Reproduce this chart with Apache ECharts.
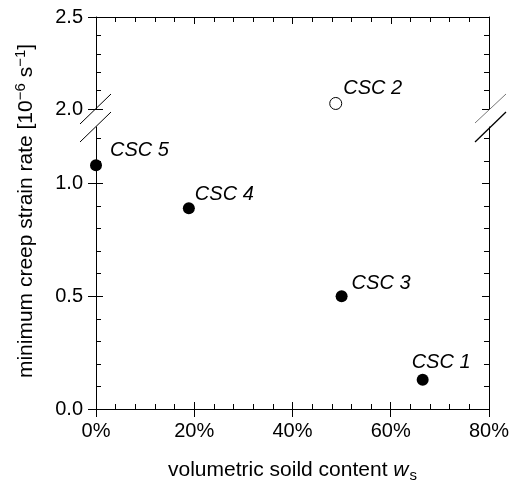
<!DOCTYPE html>
<html>
<head>
<meta charset="utf-8">
<title>minimum creep strain rate</title>
<script src="https://cdn.jsdelivr.net/npm/echarts@6/dist/echarts.min.js"></script>
<style>
    html, body {margin: 0; padding: 0; background: #fff;}
    #chart {width: 512px; height: 488px;}
</style>
</head>
<body>
<div id="chart"></div>
<script>
    // values
    var names = ['CSC 1', 'CSC 2', 'CSC 3', 'CSC 4', 'CSC 5'];
    var soildContent = [66.5, 48.8, 50.0, 18.9, 0];
    var creepRate = [0.13, 2.03, 0.50, 0.89, 1.08];
    var hollow = [false, true, false, false, false];

    var xTicks = [0, 20, 40, 60, 80];
    var lowTicks = [0, 0.5, 1.0];
    var highTicks = [2.0, 2.5];

    // label placement, relative to the marker centre
    var labelShift = [[-11, -17], [7, -15], [10, -13], [6, -14], [14, -15]];

    var font = 'Liberation Sans, Arial, sans-serif';
    var black = '#000';

    // minor ticks: every 4 % on x, every 0.1 on y
    var xMinor = [], lowMinor = [], highMinor = [];
    for (var a = 4; a < 80; a += 4) {
        if (a % 20) xMinor.push(a);
    }
    for (var i = 1; i <= 12; i++) {
        if (i % 5) lowMinor.push(i / 10);
    }
    for (var j = 21; j <= 24; j++) highMinor.push(j / 10);

    var line = {show: true, lineStyle: {color: black, width: 1}};

    function ticks(vals, len, inside) {
        return {show: true, customValues: vals, length: len, inside: inside,
            lineStyle: {color: black, width: 1}};
    }

    function yAx(grid, pos, min, max, o) {
        return Object.assign({
            type: 'value', gridIndex: grid, position: pos, min: min, max: max,
            splitLine: {show: false},
            axisLine: {show: false},
            axisLabel: {show: false},
            axisTick: {show: false}
        }, o);
    }

    function xAx(grid, pos, o) {
        return yAx(grid, pos, 0, 80, o);
    }

    function yLabels(vals) {
        return {show: true, customValues: vals, margin: 13, color: black,
            fontSize: 20, fontFamily: font,
            formatter: function (v) { return v.toFixed(1); }};
    }

    var lowData = [], highData = [];
    for (var k = 0; k < names.length; k++) {
        var item = {
            name: names[k],
            value: [soildContent[k], creepRate[k]],
            label: {offset: [labelShift[k][0] - 6, labelShift[k][1]]},
            itemStyle: hollow[k]
                ? {color: '#fff', borderColor: black, borderWidth: 1, opacity: 1}
                : {color: black, opacity: 1}
        };
        (creepRate[k] > 1.5 ? highData : lowData).push(item);
    }

    var pointLabel = {
        show: true, position: 'right', distance: 0, formatter: '{b}',
        color: black, fontSize: 20, fontStyle: 'italic', fontFamily: font
    };

    var chart = echarts.init(document.getElementById('chart'));
    chart.setOption({
        animation: false,
        backgroundColor: '#fff',
        grid: [
            {left: 96, width: 393, top: 127, height: 283, show: false},
            {left: 96, width: 393, top: 17, height: 92, show: false}
        ],
        xAxis: [
            xAx(0, 'bottom', {
                axisLine: line,
                axisTick: ticks(xTicks, 8, false),
                axisLabel: {show: true, customValues: xTicks, color: black, fontSize: 20,
                    fontFamily: font, margin: 12, formatter: '{value}%'},
                name: '{t|volumetric soild content }{w|w}{s|s}',
                nameLocation: 'middle',
                nameGap: 49,
                nameTextStyle: {
                    rich: {
                        t: {fontSize: 21, fontFamily: font, color: black},
                        w: {fontSize: 21, fontFamily: font, color: black, fontStyle: 'italic'},
                        s: {fontSize: 15, fontFamily: font, color: black, padding: [10, 0, 0, 1]}
                    }
                }
            }),
            xAx(0, 'bottom', {axisTick: ticks(xTicks, 7, true)}),
            xAx(0, 'bottom', {axisTick: ticks(xMinor, 5, true)}),
            xAx(1, 'top', {axisLine: line, axisTick: ticks(xTicks, 7, true)}),
            xAx(1, 'top', {axisTick: ticks(xMinor, 5, true)})
        ],
        yAxis: [
            // lower part 0 .. 1.25
            yAx(0, 'left', 0, 1.25, {axisLine: line, axisLabel: yLabels(lowTicks),
                axisTick: ticks(lowTicks, 8, false)}),
            yAx(0, 'left', 0, 1.25, {axisTick: ticks(lowTicks, 7, true)}),
            yAx(0, 'left', 0, 1.25, {axisTick: ticks(lowMinor, 5, true)}),
            yAx(0, 'right', 0, 1.25, {axisLine: line, axisTick: ticks(lowTicks, 7, true)}),
            yAx(0, 'right', 0, 1.25, {axisTick: ticks(lowMinor, 5, true)}),
            // upper part 2.0 .. 2.5
            yAx(1, 'left', 2, 2.5, {axisLine: line, axisLabel: yLabels(highTicks),
                axisTick: ticks(highTicks, 8, false)}),
            yAx(1, 'left', 2, 2.5, {axisTick: ticks(highTicks, 7, true)}),
            yAx(1, 'left', 2, 2.5, {axisTick: ticks(highMinor, 5, true)}),
            yAx(1, 'right', 2, 2.5, {axisLine: line, axisTick: ticks(highTicks, 7, true)}),
            yAx(1, 'right', 2, 2.5, {axisTick: ticks(highMinor, 5, true)})
        ],
        series: [
            {
                type: 'scatter', xAxisIndex: 0, yAxisIndex: 0,
                symbol: 'circle', symbolSize: 12,
                label: pointLabel,
                data: lowData
            },
            {
                type: 'scatter', xAxisIndex: 3, yAxisIndex: 5,
                symbol: 'circle', symbolSize: 12,
                label: pointLabel,
                data: highData
            }
        ],
        graphic: [
            {
                type: 'text', x: 26, y: 211, rotation: Math.PI / 2,
                style: {
                    text: '{t|minimum creep strain rate [10}{p|\u22126}{t| s}{p|\u22121}{t|]}',
                    align: 'center', verticalAlign: 'middle',
                    rich: {
                        t: {fontSize: 21, fontFamily: font, fill: black},
                        p: {fontSize: 15, fontFamily: font, fill: black, padding: [0, 0, 11, 0]}
                    }
                }
            },
            // axis break marks
            {type: 'line', shape: {x1: 80, y1: 124, x2: 111, y2: 94}, style: {stroke: black, lineWidth: 1}},
            {type: 'line', shape: {x1: 80, y1: 142, x2: 111, y2: 112}, style: {stroke: black, lineWidth: 1}},
            {type: 'line', shape: {x1: 475, y1: 123, x2: 506, y2: 94}, style: {stroke: '#777', lineWidth: 1}},
            {type: 'line', shape: {x1: 475, y1: 142, x2: 506, y2: 112}, style: {stroke: black, lineWidth: 1.3}}
        ]
    });
</script>
</body>
</html>
